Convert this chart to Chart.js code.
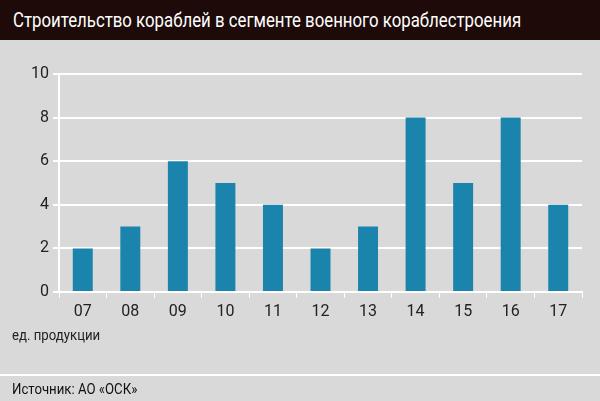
<!DOCTYPE html>
<html><head><meta charset="utf-8">
<script src="https://cdn.jsdelivr.net/npm/chart.js@4/dist/chart.umd.min.js"></script>
<style>
body{margin:0;width:600px;height:401px;background:#d9d9d9;font-family:"Roboto",sans-serif;position:relative;overflow:hidden}
#hd{position:absolute;left:0;top:0;width:600px;height:40px;background:#1e0a08}
#hd span{position:absolute;left:13px;top:0;color:#fff;font-size:21px;line-height:40px;white-space:nowrap;transform:scaleX(0.8);transform-origin:left center}
#cw{position:absolute;left:0;top:40px;width:600px;height:333px}
#unit{position:absolute;left:12px;top:326px;font-size:15px;color:#222;transform:scaleX(0.88);transform-origin:left center;white-space:nowrap}
#ft{position:absolute;left:0;top:374px;width:600px;height:27px;border-top:2px solid #fff;box-sizing:border-box}
#ft span{position:absolute;left:12px;top:0;font-size:15px;color:#111;line-height:26px;transform:scaleX(0.88);transform-origin:left center;white-space:nowrap}
</style></head><body>
<div id="hd"><span>Строительство кораблей в сегменте военного кораблестроения</span></div>
<div id="cw"><canvas id="c"></canvas></div>
<div id="unit">ед. продукции</div>
<div id="ft"><span>Источник: АО «ОСК»</span></div>
<script>
const categories=["07","08","09","10","11","12","13","14","15","16","17"];
const values=[2,3,6,5,4,2,3,8,5,8,4];
const F='"Roboto",sans-serif';
new Chart(document.getElementById('c'),{type:'bar',
data:{labels:categories,datasets:[{data:values,backgroundColor:'#1a84ad',barPercentage:0.84,categoryPercentage:0.5}]},
options:{responsive:true,maintainAspectRatio:false,animation:false,
layout:{padding:{top:34,right:18,bottom:51,left:0}},
plugins:{legend:{display:false},tooltip:{enabled:false}},
scales:{
x:{grid:{display:true,drawOnChartArea:false,color:'#fff',tickLength:6,offset:true},border:{color:'#fff',width:2},
 ticks:{color:'#222',font:{family:F,size:16},padding:4},afterFit:s=>{s.height=30}},
y:{min:0,max:10,ticks:{stepSize:2,color:'#222',font:{family:F,size:16},padding:4},
 grid:{color:'#fff',lineWidth:2,tickLength:6},border:{color:'#fff',width:2},afterFit:s=>{s.width=59}}
}}});
</script></body></html>
